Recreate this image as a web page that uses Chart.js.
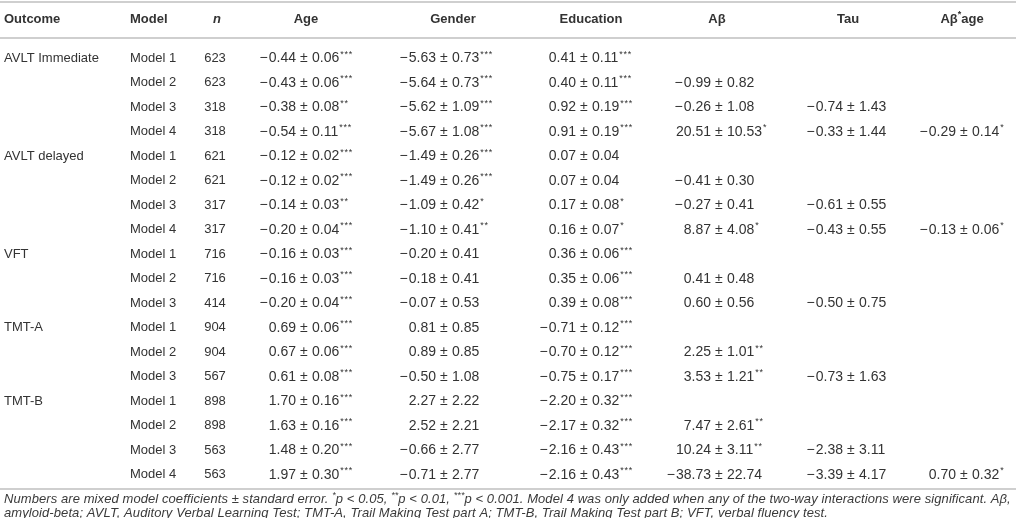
<!DOCTYPE html>
<html>
<head>
<meta charset="utf-8">
<script src="https://cdn.jsdelivr.net/npm/chart.js@4.4.1/dist/chart.umd.min.js"></script>
<style>
  html, body { margin: 0; padding: 0; background: #fff; }
  #wrap { width: 1016px; height: 518px; }
</style>
</head>
<body>
<div id="wrap"><canvas id="tbl"></canvas></div>
<script>
// ---- table data ----
const outcomes = ['AVLT Immediate', '', '', '', 'AVLT delayed', '', '', '', 'VFT', '', '', 'TMT-A', '', '', 'TMT-B', '', '', ''];
const models = ['Model 1', 'Model 2', 'Model 3', 'Model 4', 'Model 1', 'Model 2', 'Model 3', 'Model 4',
  'Model 1', 'Model 2', 'Model 3', 'Model 1', 'Model 2', 'Model 3', 'Model 1', 'Model 2', 'Model 3', 'Model 4'];
const nValues = [623, 623, 318, 318, 621, 621, 317, 317, 716, 716, 414, 904, 904, 567, 898, 898, 563, 563];

const ageCoef = [-0.44, -0.43, -0.38, -0.54, -0.12, -0.12, -0.14, -0.20, -0.16, -0.16, -0.20, 0.69, 0.67, 0.61, 1.70, 1.63, 1.48, 1.97];
const ageSE   = [0.06, 0.06, 0.08, 0.11, 0.02, 0.02, 0.03, 0.04, 0.03, 0.03, 0.04, 0.06, 0.06, 0.08, 0.16, 0.16, 0.20, 0.30];
const ageSig  = ['***', '***', '**', '***', '***', '***', '**', '***', '***', '***', '***', '***', '***', '***', '***', '***', '***', '***'];

const genderCoef = [-5.63, -5.64, -5.62, -5.67, -1.49, -1.49, -1.09, -1.10, -0.20, -0.18, -0.07, 0.81, 0.89, -0.50, 2.27, 2.52, -0.66, -0.71];
const genderSE   = [0.73, 0.73, 1.09, 1.08, 0.26, 0.26, 0.42, 0.41, 0.41, 0.41, 0.53, 0.85, 0.85, 1.08, 2.22, 2.21, 2.77, 2.77];
const genderSig  = ['***', '***', '***', '***', '***', '***', '*', '**', '', '', '', '', '', '', '', '', '', ''];

const eduCoef = [0.41, 0.40, 0.92, 0.91, 0.07, 0.07, 0.17, 0.16, 0.36, 0.35, 0.39, -0.71, -0.70, -0.75, -2.20, -2.17, -2.16, -2.16];
const eduSE   = [0.11, 0.11, 0.19, 0.19, 0.04, 0.04, 0.08, 0.07, 0.06, 0.06, 0.08, 0.12, 0.12, 0.17, 0.32, 0.32, 0.43, 0.43];
const eduSig  = ['***', '***', '***', '***', '', '', '*', '*', '***', '***', '***', '***', '***', '***', '***', '***', '***', '***'];

const abCoef = [null, -0.99, -0.26, 20.51, null, -0.41, -0.27, 8.87, null, 0.41, 0.60, null, 2.25, 3.53, null, 7.47, 10.24, -38.73];
const abSE   = [null, 0.82, 1.08, 10.53, null, 0.30, 0.41, 4.08, null, 0.48, 0.56, null, 1.01, 1.21, null, 2.61, 3.11, 22.74];
const abSig  = ['', '', '', '*', '', '', '', '*', '', '', '', '', '**', '**', '', '**', '**', ''];

const tauCoef = [null, null, -0.74, -0.33, null, null, -0.61, -0.43, null, null, -0.50, null, null, -0.73, null, null, -2.38, -3.39];
const tauSE   = [null, null, 1.43, 1.44, null, null, 0.55, 0.55, null, null, 0.75, null, null, 1.63, null, null, 3.11, 4.17];
const tauSig  = ['', '', '', '', '', '', '', '', '', '', '', '', '', '', '', '', '', ''];

const abAgeCoef = [null, null, null, -0.29, null, null, null, -0.13, null, null, null, null, null, null, null, null, null, 0.70];
const abAgeSE   = [null, null, null, 0.14, null, null, null, 0.06, null, null, null, null, null, null, null, null, null, 0.32];
const abAgeSig  = ['', '', '', '*', '', '', '', '*', '', '', '', '', '', '', '', '', '', '*'];

const footLine1 = [['Numbers are mixed model coefficients ± standard error. '], ['*', 1], ['p < 0.05, '], ['**', 1], ['p < 0.01, '], ['***', 1],
  ['p < 0.001. Model 4 was only added when any of the two-way interactions were significant. Aβ,']];
const footLine2 = [['amyloid-beta; AVLT, Auditory Verbal Learning Test; TMT-A, Trail Making Test part A; TMT-B, Trail Making Test part B; VFT, verbal fluency test.']];

// ---- styling / layout (x positions on a 0..1016 linear scale) ----
const TEXT = '#333333';
const RULE = '#cfcfcf';
const FONT = '"Liberation Sans", Arial, Helvetica, sans-serif';

const rowIds = models.map((m, i) => 'r' + i);

function valueColumn(coef, se, sig, x, headX, head) {
  const pts = [], cells = [];
  coef.forEach((c, i) => {
    if (c === null) return;
    pts.push({ x: x, y: rowIds[i] });
    cells.push({ neg: c < 0, num: Math.abs(c).toFixed(2), se: se[i].toFixed(2), sig: sig[i] });
  });
  return { data: pts, cells: cells, mode: 'pm', head: head, headX: headX };
}

function textColumn(values, x, headX, head, mode) {
  const pts = [], cells = [];
  values.forEach((v, i) => {
    if (v === '' || v === null) return;
    pts.push({ x: x, y: rowIds[i] });
    cells.push({ text: String(v) });
  });
  return { data: pts, cells: cells, mode: mode, head: head, headX: headX };
}

const cols = [
  textColumn(outcomes, 4, 4, [['Outcome']], 'left'),
  textColumn(models, 130, 130, [['Model']], 'left'),
  textColumn(nValues, 215, 217, [['n', 2]], 'center'),
  valueColumn(ageCoef, ageSE, ageSig, 300, 306, [['Age']]),
  valueColumn(genderCoef, genderSE, genderSig, 440, 453, [['Gender']]),
  valueColumn(eduCoef, eduSE, eduSig, 580, 591, [['Education']]),
  valueColumn(abCoef, abSE, abSig, 715, 717, [['Aβ']]),
  valueColumn(tauCoef, tauSE, tauSig, 847, 848, [['Tau']]),
  valueColumn(abAgeCoef, abAgeSE, abAgeSig, 960, 962, [['Aβ'], ['*', 1], ['age']])
];

// [text, flag] segments; flag 1 = superscript, 2 = italic
function richWidth(ctx, segs, base, sup, ital) {
  let w = 0;
  segs.forEach(s => {
    ctx.font = s[1] === 1 ? sup : (s[1] === 2 ? ital : base);
    w += ctx.measureText(s[0]).width;
  });
  return w;
}
function drawRich(ctx, segs, x, y, base, sup, ital) {
  ctx.textAlign = 'left';
  segs.forEach(s => {
    ctx.font = s[1] === 1 ? sup : (s[1] === 2 ? ital : base);
    ctx.fillText(s[0], x, s[1] === 1 ? y - 4 : y);
    x += ctx.measureText(s[0]).width;
  });
}

const tablePlugin = {
  id: 'tableText',
  afterDatasetsDraw(chart) {
    const ctx = chart.ctx;
    const area = chart.chartArea;
    const xs = chart.scales.x;
    ctx.save();
    ctx.fillStyle = TEXT;
    ctx.textBaseline = 'middle';

    // rules
    ctx.strokeStyle = RULE;
    ctx.lineWidth = 2;
    [area.top - 44, area.top - 8, area.bottom + 2].forEach(y => {
      ctx.beginPath();
      ctx.moveTo(area.left, y);
      ctx.lineTo(area.right, y);
      ctx.stroke();
    });

    // header
    const hb = 'bold 13px ' + FONT, hs = 'bold 9px ' + FONT, hi = 'italic bold 13px ' + FONT;
    const hy = area.top - 27;
    chart.data.datasets.forEach(ds => {
      const w = richWidth(ctx, ds.head, hb, hs, hi);
      const hx = xs.getPixelForValue(ds.headX);
      drawRich(ctx, ds.head, ds.mode === 'left' ? hx : hx - w / 2, hy, hb, hs, hi);
    });

    // cells
    const label = '13px ' + FONT, num = '14px ' + FONT, small = '9px ' + FONT;
    chart.data.datasets.forEach((ds, di) => {
      const meta = chart.getDatasetMeta(di);
      meta.data.forEach((pt, j) => {
        const c = ds.cells[j];
        if (ds.mode === 'pm') {
          const p = pt.x;
          ctx.font = num;
          ctx.textAlign = 'right';
          ctx.fillText(c.num, p - 4, pt.y);
          if (c.neg) ctx.fillText('\u2212', p - 5 - ctx.measureText(c.num).width, pt.y);
          ctx.textAlign = 'left';
          ctx.fillText('\u00b1', p, pt.y);
          ctx.fillText(c.se, p + 12, pt.y);
          if (c.sig) {
            const w = ctx.measureText(c.se).width;
            ctx.font = small;
            ctx.letterSpacing = '0.8px';
            ctx.fillText(c.sig, p + 13 + w, pt.y - 4);
            ctx.letterSpacing = '0px';
          }
        } else {
          ctx.font = label;
          ctx.textAlign = ds.mode;
          ctx.fillText(c.text, pt.x, pt.y);
        }
      });
    });

    // footnote
    const fb = 'italic 13px ' + FONT, fs = 'italic 9px ' + FONT;
    ctx.fillStyle = '#3a3a3a';
    ctx.letterSpacing = '0.08px';
    drawRich(ctx, footLine1, area.left + 4, area.bottom + 12, fb, fs, fb);
    drawRich(ctx, footLine2, area.left + 4, area.bottom + 26, fb, fs, fb);
    ctx.letterSpacing = '0px';
    ctx.restore();
  }
};

new Chart(document.getElementById('tbl'), {
  type: 'scatter',
  data: {
    datasets: cols.map(c => Object.assign({ pointRadius: 0, pointHoverRadius: 0, showLine: false }, c))
  },
  options: {
    responsive: true,
    maintainAspectRatio: false,
    animation: false,
    events: [],
    layout: { padding: { top: 46, bottom: 31, left: 0, right: 0 } },
    plugins: { legend: { display: false }, tooltip: { enabled: false } },
    scales: {
      x: { type: 'linear', min: 0, max: 1016, display: false },
      y: { type: 'category', labels: rowIds, offset: true, display: false }
    }
  },
  plugins: [tablePlugin]
});
</script>
</body>
</html>
